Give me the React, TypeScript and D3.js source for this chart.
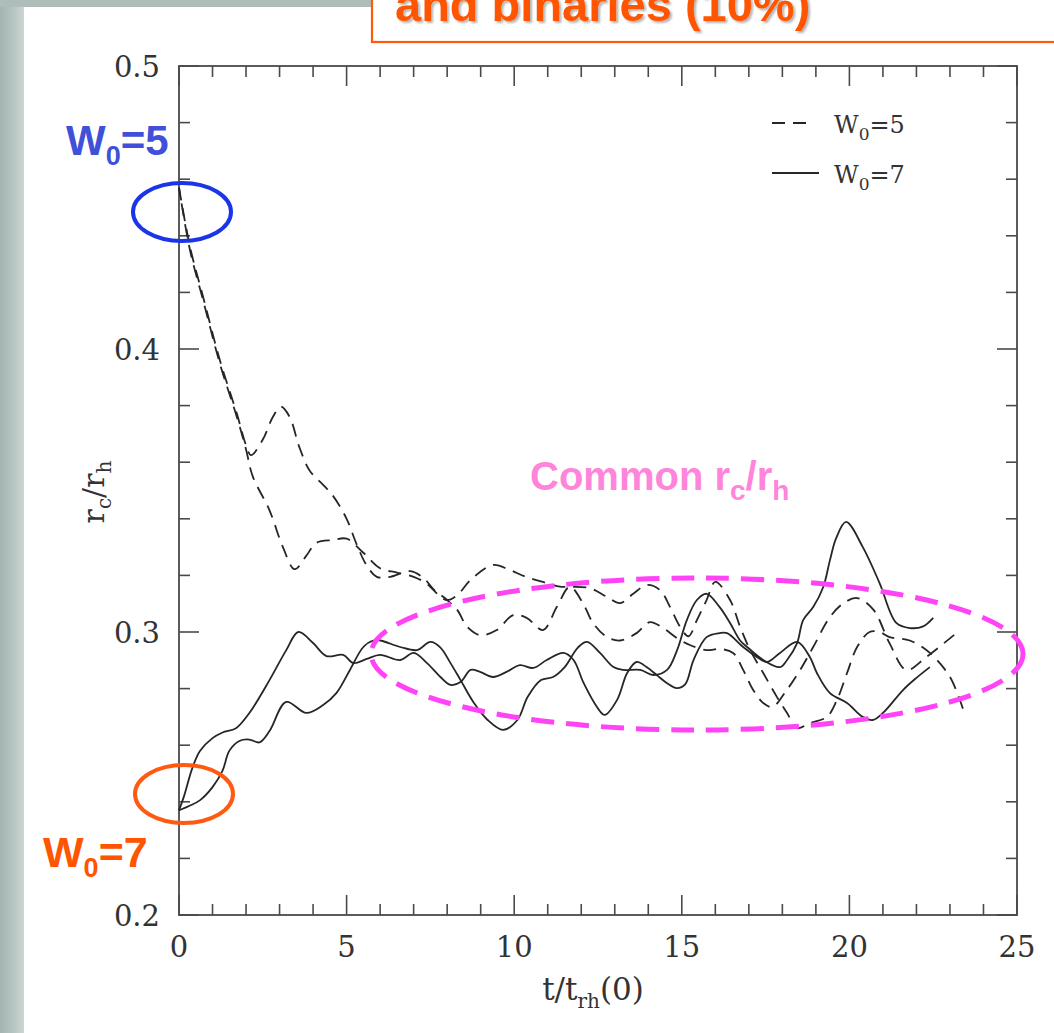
import React from "react";
import * as d3 from "d3";

// ---- data: core radius / half-mass radius vs time ----
const xTicksMajor = [0, 5, 10, 15, 20, 25];
const yTicksMajor = [0.2, 0.3, 0.4, 0.5];

// W0 = 5, run A (dashed)
const w5aT = [0, 0.33, 0.72, 1.22, 1.73, 2.0, 2.15, 2.5, 2.8, 3.05, 3.3, 3.6, 3.9, 4.3, 4.6, 5.0, 5.3, 5.6, 5.9, 6.3, 6.9, 7.3, 7.6, 8.0, 8.3, 8.6, 8.98, 9.48, 9.97, 10.37, 10.86, 11.27, 11.66, 12.05, 12.35, 12.77, 13.16, 13.65, 14.05, 14.44, 14.85, 15.24, 15.74, 16.13, 16.53, 16.83, 17.13, 17.43, 17.7, 18.1, 18.53, 18.92, 19.42, 19.83, 20.23, 20.72, 21.2, 21.7, 22.3, 23.3];
const w5aR = [0.457, 0.436, 0.4184, 0.396, 0.377, 0.366, 0.3625, 0.368, 0.376, 0.3796, 0.376, 0.365, 0.357, 0.352, 0.348, 0.34, 0.331, 0.3235, 0.3195, 0.3195, 0.3215, 0.319, 0.315, 0.3113, 0.3078, 0.3018, 0.2989, 0.3007, 0.306, 0.305, 0.3007, 0.3088, 0.316, 0.3102, 0.3032, 0.2982, 0.297, 0.2996, 0.3035, 0.3014, 0.2979, 0.2954, 0.2936, 0.294, 0.2926, 0.2866, 0.2795, 0.2749, 0.2735, 0.279, 0.2866, 0.2947, 0.3053, 0.3102, 0.312, 0.3078, 0.296, 0.2866, 0.2912, 0.3007];

// W0 = 5, run B (dashed)
const w5bT = [0, 0.33, 0.72, 1.22, 1.73, 2.0, 2.2, 2.7, 3.1, 3.45, 3.8, 4.1, 4.6, 5.0, 5.5, 6.0, 6.5, 7.0, 7.4, 7.8, 8.0, 8.3, 8.7, 9.37, 9.87, 10.37, 10.97, 11.37, 11.7, 12.26, 12.77, 13.16, 13.55, 13.95, 14.35, 14.65, 14.95, 15.2, 15.45, 15.74, 16.0, 16.44, 16.74, 17.04, 17.43, 17.84, 18.14, 18.44, 18.82, 19.33, 19.63, 19.93, 20.23, 20.6, 20.9, 21.2, 21.8, 22.4, 23.0, 23.4];
const w5bR = [0.457, 0.4348, 0.4172, 0.3948, 0.3758, 0.3645, 0.355, 0.343, 0.33, 0.3222, 0.327, 0.3315, 0.3325, 0.333, 0.328, 0.3225, 0.321, 0.3195, 0.317, 0.3125, 0.3113, 0.313, 0.3184, 0.3237, 0.3219, 0.3194, 0.3173, 0.316, 0.316, 0.3155, 0.3124, 0.3102, 0.3135, 0.3166, 0.3148, 0.3088, 0.3018, 0.2985, 0.3042, 0.3113, 0.3177, 0.3113, 0.3018, 0.2936, 0.2855, 0.277, 0.2714, 0.266, 0.2678, 0.27, 0.276, 0.2855, 0.2947, 0.3, 0.3, 0.2982, 0.297, 0.2926, 0.2841, 0.2724];

// W0 = 7, run A (solid)
const w7aT = [0, 0.3, 0.63, 1.0, 1.3, 1.5, 1.8, 2.1, 2.4, 2.7, 3.2, 3.8, 4.3, 4.7, 5.1, 5.5, 5.8, 6.0, 6.6, 7.1, 7.5, 7.8, 8.1, 8.4, 8.8, 9.2, 9.67, 10.1, 10.4, 10.8, 11.16, 11.5, 11.9, 12.17, 12.56, 12.96, 13.25, 13.76, 14.15, 14.56, 14.86, 15.15, 15.45, 15.74, 16.13, 16.44, 16.74, 16.95, 17.43, 17.93, 18.14, 18.44, 18.62, 18.92, 19.22, 19.42, 19.6, 19.9, 20.4, 20.9, 21.4, 21.8, 22.2, 22.5];
const w7aR = [0.237, 0.2385, 0.2406, 0.2452, 0.251, 0.258, 0.2615, 0.262, 0.261, 0.265, 0.2753, 0.2714, 0.2742, 0.2785, 0.2866, 0.2947, 0.297, 0.297, 0.2947, 0.2936, 0.2965, 0.2945, 0.289, 0.283, 0.2749, 0.269, 0.2654, 0.269, 0.277, 0.283, 0.2841, 0.2875, 0.2945, 0.2965, 0.2926, 0.2876, 0.2866, 0.2866, 0.2848, 0.2866, 0.2936, 0.3042, 0.3113, 0.3135, 0.3088, 0.3032, 0.297, 0.2947, 0.2901, 0.2876, 0.2901, 0.2961, 0.3042, 0.3088, 0.3159, 0.3254, 0.333, 0.3389, 0.33, 0.3173, 0.3032, 0.3014, 0.302, 0.305];

// W0 = 7, run B (solid)
const w7bT = [0, 0.15, 0.4, 0.63, 1.0, 1.3, 1.7, 2.1, 2.7, 3.2, 3.56, 4.0, 4.4, 4.9, 5.2, 5.6, 6.0, 6.6, 7.0, 7.4, 7.8, 8.1, 8.4, 8.7, 8.98, 9.37, 9.77, 10.17, 10.57, 10.97, 11.47, 11.77, 12.07, 12.47, 12.7, 13.07, 13.37, 13.65, 13.95, 14.25, 14.55, 14.85, 15.1, 15.35, 15.74, 16.13, 16.35, 16.83, 17.24, 17.54, 17.93, 18.44, 18.82, 19.03, 19.42, 19.93, 20.4, 20.7, 21.0, 21.6, 22.0, 22.4];
const w7bR = [0.237, 0.242, 0.252, 0.258, 0.2625, 0.2645, 0.266, 0.2714, 0.283, 0.2936, 0.3, 0.2961, 0.2915, 0.2919, 0.289, 0.2905, 0.2919, 0.2901, 0.2926, 0.289, 0.2841, 0.2813, 0.2823, 0.2866, 0.2859, 0.2841, 0.2859, 0.2883, 0.2873, 0.2901, 0.2926, 0.2901, 0.282, 0.2735, 0.2707, 0.276, 0.2855, 0.2894, 0.2876, 0.2848, 0.282, 0.2802, 0.2815, 0.2901, 0.2982, 0.2996, 0.2996, 0.2947, 0.2912, 0.2894, 0.2926, 0.2965, 0.2912, 0.2855, 0.2784, 0.2749, 0.27, 0.2689, 0.2714, 0.2795, 0.2838, 0.2876];

const W = 1054;
const H = 1033;
const plot = { left: 179, right: 1017, top: 66, bottom: 915 };

const x = d3.scaleLinear().domain([0, 25]).range([plot.left, plot.right]);
const y = d3.scaleLinear().domain([0.2, 0.5]).range([plot.bottom, plot.top]);

const zip = (t: number[], r: number[]) => t.map((v, i) => [v, r[i]] as [number, number]);
const line = d3
  .line<[number, number]>()
  .x((d) => x(d[0]))
  .y((d) => y(d[1]))
  .curve(d3.curveCatmullRom.alpha(0.5));

const xMinor = d3.range(0, 26, 1).filter((v) => v % 5 !== 0);
const yMinor = d3.range(0.2, 0.5001, 0.02).filter((v) => Math.abs(v * 10 - Math.round(v * 10)) > 0.01);

const AXIS = "#4a4a4a";
const INK = "#262626";
const SERIF = "'DejaVu Serif', 'Liberation Serif', serif";
const SANS = "'Liberation Sans', Arial, Helvetica, sans-serif";
const DASH = "13,8";
const LW = 1.8;
const MAJ = 20;
const MIN = 11;

export default function App() {
  return (
    <svg
      width={W}
      height={H}
      viewBox={`0 0 ${W} ${H}`}
      style={{ position: "absolute", left: 0, top: 0, background: "#fff" }}
    >
      <defs>
        <linearGradient id="slideEdge" x1="0" x2="1" y1="0" y2="0">
          <stop offset="0" stopColor="#a4b5b1" />
          <stop offset="0.55" stopColor="#b6c5c2" />
          <stop offset="1" stopColor="#cdd7d5" />
        </linearGradient>
        <filter id="txtShadow" x="-5%" y="-30%" width="110%" height="160%">
          <feDropShadow dx="2" dy="2" stdDeviation="1.2" floodColor="#000" floodOpacity="0.3" />
        </filter>
        <clipPath id="xTitleClip">
          <rect x={0} y={0} width={W} height={1010} />
        </clipPath>
      </defs>

      {/* slide background edges */}
      <rect x={0} y={0} width={24} height={H} fill="url(#slideEdge)" />
      <rect x={0} y={0} width={372} height={7} fill="#aebdba" />

      {/* title box (runs off the top of the slide) */}
      <rect x={372} y={-10} width={W} height={52} fill="#fff" stroke="#ff5a0a" strokeWidth={2.2} />
      <text
        x={395}
        y={21}
        fontFamily={SANS}
        fontWeight="bold"
        fontSize={47}
        fill="#ff5500"
        filter="url(#txtShadow)"
      >
        and binaries (10%)
      </text>

      {/* frame */}
      <rect
        x={plot.left}
        y={plot.top}
        width={plot.right - plot.left}
        height={plot.bottom - plot.top}
        fill="none"
        stroke={AXIS}
        strokeWidth={1.8}
      />

      {/* x ticks, bottom and top */}
      {xTicksMajor.map((v) => (
        <g key={`xM${v}`} stroke={AXIS} strokeWidth={1.6}>
          <line x1={x(v)} x2={x(v)} y1={plot.bottom} y2={plot.bottom - MAJ} />
          <line x1={x(v)} x2={x(v)} y1={plot.top} y2={plot.top + MAJ} />
        </g>
      ))}
      {xMinor.map((v) => (
        <g key={`xm${v}`} stroke={AXIS} strokeWidth={1.6}>
          <line x1={x(v)} x2={x(v)} y1={plot.bottom} y2={plot.bottom - MIN} />
          <line x1={x(v)} x2={x(v)} y1={plot.top} y2={plot.top + MIN} />
        </g>
      ))}
      {/* y ticks, left and right */}
      {yTicksMajor.map((v) => (
        <g key={`yM${v}`} stroke={AXIS} strokeWidth={1.6}>
          <line x1={plot.left} x2={plot.left + MAJ} y1={y(v)} y2={y(v)} />
          <line x1={plot.right} x2={plot.right - MAJ} y1={y(v)} y2={y(v)} />
        </g>
      ))}
      {yMinor.map((v) => (
        <g key={`ym${v.toFixed(2)}`} stroke={AXIS} strokeWidth={1.6}>
          <line x1={plot.left} x2={plot.left + MIN} y1={y(v)} y2={y(v)} />
          <line x1={plot.right} x2={plot.right - MIN} y1={y(v)} y2={y(v)} />
        </g>
      ))}

      {/* tick labels */}
      {xTicksMajor.map((v) => (
        <text
          key={`xl${v}`}
          x={x(v)}
          y={957}
          textAnchor="middle"
          fontFamily={SERIF}
          fontSize={29}
          fill="#333"
        >
          {v}
        </text>
      ))}
      {yTicksMajor.map((v) => (
        <text
          key={`yl${v}`}
          x={160}
          y={y(v) + 11}
          textAnchor="end"
          fontFamily={SERIF}
          fontSize={29}
          fill="#333"
        >
          {v.toFixed(1)}
        </text>
      ))}

      {/* axis titles */}
      <text
        x={593}
        y={1000}
        textAnchor="middle"
        fontFamily={SERIF}
        fontSize={31}
        fill="#333"
        clipPath="url(#xTitleClip)"
      >
        t/t
        <tspan fontSize={20} dy={8}>rh</tspan>
        <tspan dy={-8}>(0)</tspan>
      </text>
      <text
        transform="translate(104,492) rotate(-90)"
        textAnchor="middle"
        fontFamily={SERIF}
        fontSize={30}
        fill="#333"
      >
        r
        <tspan fontSize={20} dy={7}>c</tspan>
        <tspan dy={-7}>/r</tspan>
        <tspan fontSize={20} dy={7}>h</tspan>
      </text>

      {/* data curves */}
      <path d={line(zip(w5aT, w5aR)) ?? ""} fill="none" stroke={INK} strokeWidth={LW} strokeDasharray={DASH} />
      <path d={line(zip(w5bT, w5bR)) ?? ""} fill="none" stroke={INK} strokeWidth={LW} strokeDasharray={DASH} strokeDashoffset={5} />
      <path d={line(zip(w7aT, w7aR)) ?? ""} fill="none" stroke={INK} strokeWidth={LW} />
      <path d={line(zip(w7bT, w7bR)) ?? ""} fill="none" stroke={INK} strokeWidth={LW} />

      {/* legend */}
      <line x1={772} x2={810} y1={123} y2={123} stroke={INK} strokeWidth={LW} strokeDasharray={DASH} />
      <text x={834} y={133} fontFamily={SERIF} fontSize={24} fill="#333">
        W<tspan fontSize={17} dy={7}>0</tspan>
        <tspan dy={-7}>=5</tspan>
      </text>
      <line x1={772} x2={819} y1={173} y2={173} stroke={INK} strokeWidth={LW} />
      <text x={834} y={183} fontFamily={SERIF} fontSize={24} fill="#333">
        W<tspan fontSize={17} dy={7}>0</tspan>
        <tspan dy={-7}>=7</tspan>
      </text>

      {/* annotations */}
      <text x={66} y={155} fontFamily={SANS} fontWeight="bold" fontSize={42} fill="#4050d8">
        W<tspan fontSize={27} dy={10}>0</tspan>
        <tspan dy={-10}>=5</tspan>
      </text>
      <ellipse cx={182} cy={212} rx={49} ry={29} fill="none" stroke="#1a35e8" strokeWidth={4} />

      <text x={43} y={867} fontFamily={SANS} fontWeight="bold" fontSize={43} fill="#ff5500">
        W<tspan fontSize={27} dy={10}>0</tspan>
        <tspan dy={-10}>=7</tspan>
      </text>
      <ellipse cx={184} cy={794} rx={49} ry={29} fill="none" stroke="#ff5a12" strokeWidth={4} />

      <text x={530} y={490} fontFamily={SANS} fontWeight="bold" fontSize={40} fill="#ff85da">
        Common r<tspan fontSize={28} dy={10}>c</tspan>
        <tspan dy={-10}>/r</tspan>
        <tspan fontSize={28} dy={10}>h</tspan>
      </text>
      <ellipse
        cx={697}
        cy={654}
        rx={326}
        ry={76}
        fill="none"
        stroke="#ff44f6"
        strokeWidth={5}
        strokeDasharray="23,12"
      />
    </svg>
  );
}
